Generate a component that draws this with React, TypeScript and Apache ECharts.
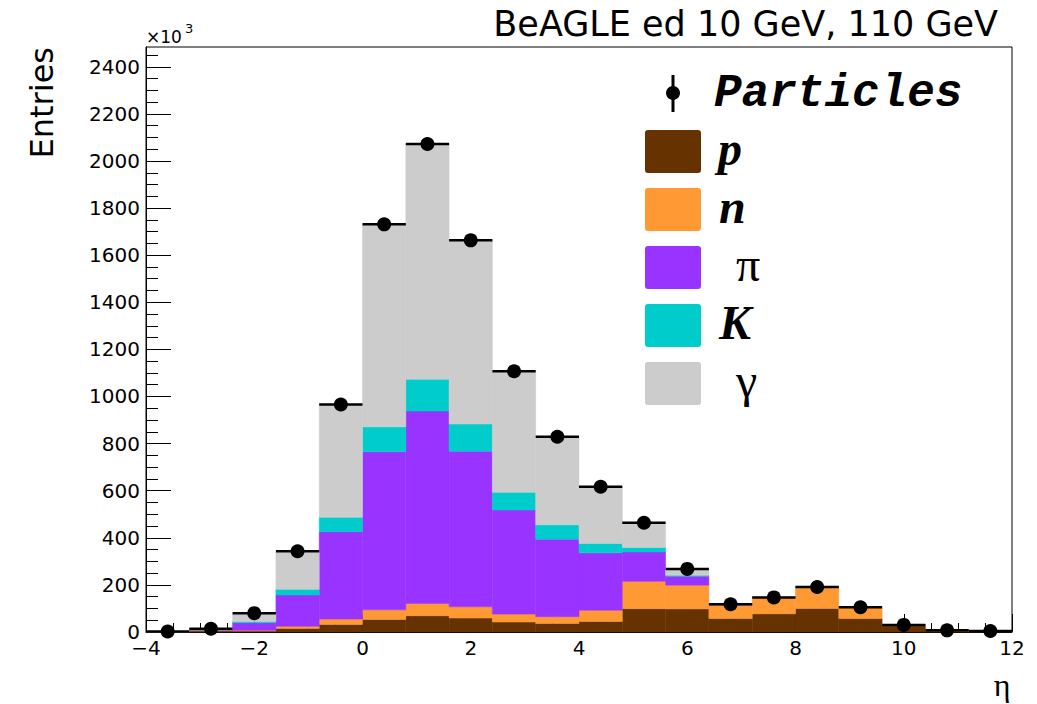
import { useEffect, useRef } from "react";
import * as echarts from "echarts";

// eta bin centres (bin width 0.8, from -4 to 12)
const binCenters = [-3.6, -2.8, -2.0, -1.2, -0.4, 0.4, 1.2, 2.0, 2.8, 3.6, 4.4, 5.2, 6.0, 6.8, 7.6, 8.4, 9.2, 10.0, 10.8, 11.6];
const binWidth = 0.8;

// entries per bin (x10^3), per species (stacked in this order)
const protons = [1, 5, 4, 15, 32, 53, 69, 59, 42, 36, 45, 99, 98, 57, 77, 100, 57, 27, 6, 3];
const neutrons = [0, 2, 3, 9, 23, 41, 52, 48, 34, 29, 47, 116, 101, 57, 70, 92, 49, 4, 1, 1];
const pions = [0, 2, 32, 133, 371, 671, 817, 661, 442, 329, 244, 125, 38, 3, 0, 0, 0, 0, 0, 0];
const kaons = [0, 1, 6, 24, 61, 106, 135, 115, 75, 61, 40, 19, 4, 1, 0, 0, 0, 0, 0, 0];
const photons = [1, 4, 35, 157, 479, 860, 999, 780, 514, 374, 241, 105, 29, 0, 0, 0, 0, 0, 0, 0];
// all particles (data points)
const particles = [2, 14, 80, 343, 966, 1731, 2072, 1663, 1107, 829, 617, 464, 268, 118, 147, 191, 105, 30, 7, 4];

const yMajorTicks = [0, 200, 400, 600, 800, 1000, 1200, 1400, 1600, 1800, 2000, 2200, 2400];
const yMinorTicks = [50, 100, 150, 250, 300, 350, 450, 500, 550, 650, 700, 750, 850, 900, 950, 1050, 1100, 1150, 1250, 1300, 1350, 1450, 1500, 1550, 1650, 1700, 1750, 1850, 1900, 1950, 2050, 2100, 2150, 2250, 2300, 2350, 2450];
const yMax = 2484;

const layerNames = ["p", "n", "π", "K", "γ"];
const layerValues = [protons, neutrons, pions, kaons, photons];
const layerColors = ["#663300", "#ff9933", "#9933ff", "#00cccc", "#cccccc"];

const SANS = "'DejaVu Sans', sans-serif";
const SERIF = "'Liberation Serif', 'DejaVu Serif', serif";
const MONO = "'Liberation Mono', 'DejaVu Sans Mono', monospace";

export default function App() {
  const ref = useRef<HTMLDivElement>(null);

  useEffect(() => {
    if (!ref.current) return;
    const chart = echarts.init(ref.current, null, { renderer: "svg" });

    const cum = binCenters.map(() => 0);
    const stackSeries = layerValues.map((vals, li) => {
      const data = binCenters.map((c, i) => {
        const lo = cum[i];
        const hi = lo + vals[i];
        cum[i] = hi;
        return [c - binWidth / 2, c + binWidth / 2, lo, hi];
      });
      const color = layerColors[li];
      return {
        type: "custom",
        name: layerNames[li],
        xAxisIndex: 0,
        yAxisIndex: 0,
        silent: true,
        z: 2,
        encode: { x: [0, 1], y: [2, 3] },
        data,
        renderItem: (_params: any, api: any) => {
          const a = api.coord([api.value(0), api.value(3)]);
          const b = api.coord([api.value(1), api.value(2)]);
          return {
            type: "rect",
            shape: { x: a[0], y: a[1], width: b[0] - a[0], height: b[1] - a[1] },
            style: { fill: color, stroke: color, lineWidth: 0.5 },
          };
        },
      };
    });

    const pointData = binCenters.map((c, i) => [c, particles[i]]);

    const labelStyle = { color: "#000", fontSize: 20, fontFamily: SANS, lineHeight: 14 };

    const legendBoxes: any[] = [];
    const legendTexts = [
      { text: "p", x: 718, bold: true },
      { text: "n", x: 719, bold: true },
      { text: "π", x: 736, bold: false },
      { text: "K", x: 719, bold: true },
      { text: "γ", x: 736, bold: false },
    ];
    const boxTops = [130, 188, 246, 304, 362];
    layerColors.forEach((col, i) => {
      legendBoxes.push({
        type: "rect",
        shape: { x: 645, y: boxTops[i], width: 56, height: 43, r: 3 },
        style: { fill: col },
        z: 10,
      });
      const t = legendTexts[i];
      legendBoxes.push({
        type: "text",
        x: t.x,
        y: boxTops[i] + 18,
        z: 10,
        style: {
          text: t.text,
          fill: "#000",
          fontFamily: SERIF,
          fontSize: 48,
          fontWeight: t.bold ? "bold" : "normal",
          fontStyle: t.bold ? "italic" : "normal",
          align: "left",
          verticalAlign: "middle",
        },
      });
    });

    const option: any = {
      animation: false,
      backgroundColor: "#fff",
      grid: [
        { left: 146, top: 47, right: 25, bottom: 72, show: true, borderColor: "#000", borderWidth: 1, backgroundColor: "transparent" },
        { left: 146, top: 47, right: 25, bottom: 72, show: false },
      ],
      xAxis: [
        {
          gridIndex: 0,
          type: "value",
          min: -4,
          max: 12,
          interval: 2,
          axisLine: { show: true, onZero: false, lineStyle: { color: "#000", width: 1 } },
          axisTick: { show: true, inside: true, length: 18, lineStyle: { color: "#000", width: 1 } },
          minorTick: { show: true, splitNumber: 4, length: 9, lineStyle: { color: "#000", width: 1 } },
          splitLine: { show: false },
          axisLabel: {
            ...labelStyle,
            margin: 9,
            formatter: (v: number) => String(v).replace("-", "\u2212"),
          },
        },
        { gridIndex: 1, type: "value", min: -4, max: 12, show: false, axisLine: { onZero: false } },
      ],
      yAxis: [
        {
          gridIndex: 0,
          type: "value",
          min: 0,
          max: yMax,
          interval: 200,
          axisLine: { show: true, onZero: false, lineStyle: { color: "#000", width: 1 } },
          axisTick: { show: true, inside: true, length: 25, customValues: yMajorTicks, lineStyle: { color: "#000", width: 1 } },
          splitLine: { show: false },
          axisLabel: { ...labelStyle, margin: 6, customValues: yMajorTicks, formatter: (v: number) => String(v) },
        },
        {
          gridIndex: 1,
          type: "value",
          min: 0,
          max: yMax,
          interval: 50,
          axisLine: { show: false, onZero: false },
          axisLabel: { show: false },
          splitLine: { show: false },
          axisTick: { show: true, inside: true, length: 12, customValues: yMinorTicks, lineStyle: { color: "#000", width: 1 } },
        },
      ],
      series: [
        ...stackSeries,
        {
          type: "custom",
          name: "Particles errors",
          silent: true,
          z: 3,
          xAxisIndex: 0,
          yAxisIndex: 0,
          encode: { x: 0, y: 1 },
          data: pointData,
          renderItem: (_params: any, api: any) => {
            const a = api.coord([api.value(0) - binWidth / 2, api.value(1)]);
            const b = api.coord([api.value(0) + binWidth / 2, api.value(1)]);
            return {
              type: "line",
              shape: { x1: a[0], y1: a[1], x2: b[0], y2: b[1] },
              style: { stroke: "#000", lineWidth: 2.5 },
            };
          },
        },
        {
          type: "scatter",
          name: "Particles",
          silent: true,
          z: 4,
          xAxisIndex: 0,
          yAxisIndex: 0,
          symbol: "circle",
          symbolSize: 14,
          itemStyle: { color: "#000", opacity: 1 },
          data: pointData,
        },
      ],
      graphic: [
        {
          type: "text",
          x: 998,
          y: 24,
          style: { text: "BeAGLE ed 10 GeV, 110 GeV", fill: "#000", fontFamily: SANS, fontSize: 35, align: "right", verticalAlign: "middle" },
        },
        {
          type: "text",
          x: 146,
          y: 37,
          style: { text: "×10", fill: "#000", fontFamily: SANS, fontSize: 17, align: "left", verticalAlign: "middle" },
        },
        {
          type: "text",
          x: 185,
          y: 28,
          style: { text: "3", fill: "#000", fontFamily: SANS, fontSize: 13, align: "left", verticalAlign: "middle" },
        },
        {
          type: "text",
          x: 42,
          y: 47,
          rotation: Math.PI / 2,
          style: { text: "Entries", fill: "#000", fontFamily: SANS, fontSize: 32, align: "right", verticalAlign: "middle" },
        },
        {
          type: "text",
          x: 1002,
          y: 685,
          style: { text: "η", fill: "#000", fontFamily: SERIF, fontSize: 32, align: "center", verticalAlign: "middle" },
        },
        // legend: Particles marker
        { type: "line", z: 10, shape: { x1: 673, y1: 75, x2: 673, y2: 112 }, style: { stroke: "#000", lineWidth: 3 } },
        { type: "circle", z: 10, shape: { cx: 673, cy: 93, r: 7 }, style: { fill: "#000" } },
        {
          type: "text",
          x: 714,
          y: 94,
          z: 10,
          style: { text: "Particles", fill: "#000", fontFamily: MONO, fontSize: 46, fontWeight: "bold", fontStyle: "italic", align: "left", verticalAlign: "middle" },
        },
        ...legendBoxes,
      ],
    };

    chart.setOption(option);
    return () => chart.dispose();
  }, []);

  return <div ref={ref} style={{ position: "absolute", left: 0, top: 0, width: 1037, height: 704 }} />;
}
